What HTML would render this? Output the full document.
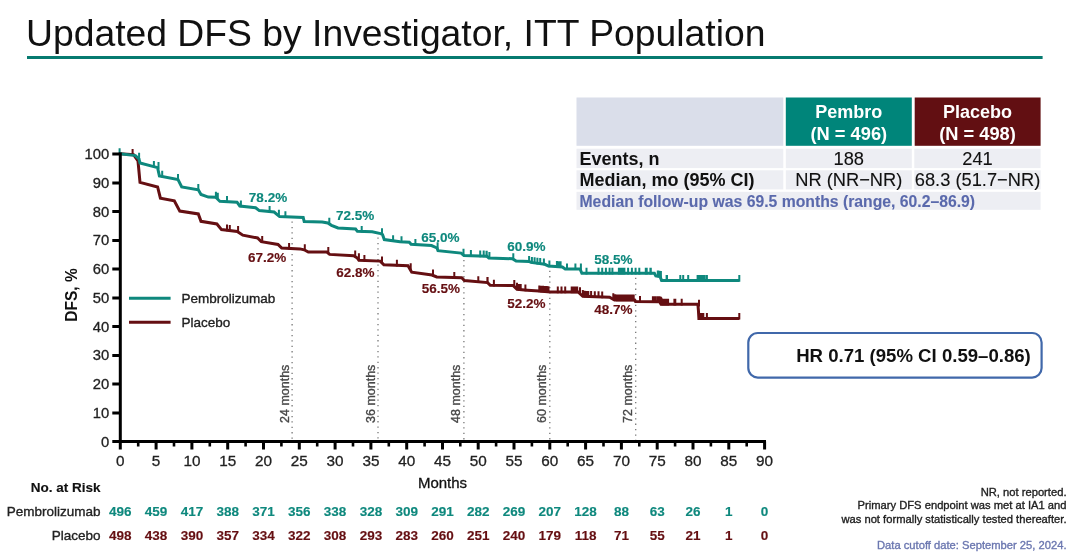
<!DOCTYPE html>
<html><head><meta charset="utf-8"><style>
html,body{margin:0;padding:0;background:#fff;width:1080px;height:556px;overflow:hidden}
svg{display:block;will-change:transform;font-family:"Liberation Sans",sans-serif}
</style></head><body>
<svg width="1080" height="556" viewBox="0 0 1080 556">
<line x1="292.1" y1="221.5" x2="292.1" y2="440" stroke="#777" stroke-width="1.3" stroke-dasharray="1.3 4.1"/>
<text transform="translate(288.6,423) rotate(-90)" font-size="12.5" fill="#474747" stroke="#474747" stroke-width="0.35">24 months</text>
<line x1="378.0" y1="237.5" x2="378.0" y2="440" stroke="#777" stroke-width="1.3" stroke-dasharray="1.3 4.1"/>
<text transform="translate(374.5,423) rotate(-90)" font-size="12.5" fill="#474747" stroke="#474747" stroke-width="0.35">36 months</text>
<line x1="463.9" y1="259.9" x2="463.9" y2="440" stroke="#777" stroke-width="1.3" stroke-dasharray="1.3 4.1"/>
<text transform="translate(460.4,423) rotate(-90)" font-size="12.5" fill="#474747" stroke="#474747" stroke-width="0.35">48 months</text>
<line x1="549.8" y1="270.7" x2="549.8" y2="440" stroke="#777" stroke-width="1.3" stroke-dasharray="1.3 4.1"/>
<text transform="translate(546.3,423) rotate(-90)" font-size="12.5" fill="#474747" stroke="#474747" stroke-width="0.35">60 months</text>
<line x1="635.7" y1="277.8" x2="635.7" y2="440" stroke="#777" stroke-width="1.3" stroke-dasharray="1.3 4.1"/>
<text transform="translate(632.2,423) rotate(-90)" font-size="12.5" fill="#474747" stroke="#474747" stroke-width="0.35">72 months</text>
<polyline points="120.0,153.8 133.5,154.6 138.0,161.0 140.0,182.4 157.6,187.0 160.4,198.1 174.3,200.9 179.8,211.1 198.3,213.9 201.0,221.3 216.9,224.0 221.5,229.6 237.2,231.5 242.8,235.2 257.6,238.0 261.3,241.7 278.0,244.4 281.7,248.1 300.0,248.9 304.2,249.8 308.3,252.1 326.9,252.1 329.6,254.4 353.7,255.8 357.4,258.1 358.9,260.2 380.2,261.1 383.9,264.8 408.0,265.7 411.7,272.2 432.0,275.0 436.7,276.9 461.7,277.8 464.4,280.6 487.6,282.6 490.2,285.2 513.3,285.6 517.0,289.3 527.2,290.2 539.3,291.1 550.4,292.0 578.1,292.0 582.8,296.3 609.6,297.3 614.5,300.0 634.6,300.0 635.5,301.6 659.6,301.8 661.0,304.2 697.9,304.2 698.4,310.0 698.9,318.4 739.3,318.4" fill="none" stroke="#650f12" stroke-width="3" stroke-linejoin="miter"/>
<path d="M132.6 155.7V149.0M227.0 231.3V224.6M229.8 231.7V225.0M238.1 232.7V226.0M262.2 242.8V236.1M289.1 249.6V242.9M304.8 250.9V244.2M328.3 253.6V246.9M355.2 257.3V250.6M358.9 260.0V253.3M364.4 261.6V254.9M382.0 263.1V256.4M396.9 266.4V259.7M410.7 269.9V263.2M433.0 276.2V269.5M454.3 278.7V272.0M478.3 282.9V276.2M487.6 283.7V277.0M487.4 283.7V277.0M493.9 286.4V279.7M514.3 286.8V280.1M517.0 289.5V282.8M518.9 290.6V283.9M520.7 290.7V284.0M525.4 291.2V284.5M539.3 292.2V285.5M541.1 292.4V285.7M543.0 292.5V285.8M544.8 292.7V286.0M546.7 292.8V286.1M548.5 293.0V286.3M557.8 293.2V286.5M561.5 293.2V286.5M565.2 293.2V286.5M571.7 293.2V286.5M573.5 293.2V286.5M575.4 293.2V286.5M577.2 293.2V286.5M580.0 294.0V287.3M582.8 296.6V289.9M584.6 297.5V290.8M586.5 297.6V290.9M588.3 297.7V291.0M591.1 297.8V291.1M594.8 297.9V291.2M598.5 298.0V291.3M602.2 298.2V291.5M613.3 300.0V293.3M615.2 301.0V294.3M617.0 301.2V294.5M618.9 301.2V294.5M620.7 301.2V294.5M622.6 301.2V294.5M624.4 301.2V294.5M626.3 301.2V294.5M628.1 301.2V294.5M630.0 301.2V294.5M631.9 301.2V294.5M633.7 301.2V294.5M654.1 302.9V296.2M655.9 303.0V296.3M659.6 303.0V296.3M661.5 304.5V297.8M663.3 305.4V298.7M665.2 305.4V298.7M667.0 305.4V298.7M674.4 305.4V298.7M640.0 302.8V296.1M652.9 302.9V296.2M655.8 303.0V296.3M658.0 303.0V296.3M659.4 303.0V296.3M660.9 303.5V296.8M662.3 305.4V298.7M663.7 305.4V298.7M665.2 305.4V298.7M666.6 305.4V298.7M668.1 305.4V298.7M675.3 305.4V298.7M681.7 305.4V298.7M699.0 306.5V299.8M700.4 319.6V312.9M701.9 319.6V312.9M703.3 319.6V312.9M706.9 319.6V312.9M739.3 319.6V312.9" stroke="#650f12" stroke-width="2" fill="none"/>
<polyline points="120.0,153.8 135.4,155.6 139.0,159.0 140.0,163.0 157.6,167.6 159.4,176.0 178.0,179.6 181.7,187.0 198.3,189.8 201.0,194.5 208.3,197.1 215.8,197.3 218.5,200.0 219.9,201.3 237.0,202.2 239.8,206.0 255.6,207.8 259.3,210.6 274.1,212.0 279.6,216.6 303.2,217.4 304.2,221.6 322.2,222.0 327.8,223.0 331.5,225.3 338.0,228.0 355.6,229.0 357.4,231.3 372.2,231.8 380.6,233.6 382.5,234.5 384.3,239.6 400.0,241.8 409.3,242.2 411.1,244.3 431.5,245.6 437.0,248.0 438.0,250.7 461.1,253.1 463.9,255.4 487.0,256.3 488.9,258.1 512.4,258.7 516.1,261.1 529.1,261.5 530.9,262.4 544.8,264.3 548.5,266.1 562.4,267.0 565.2,268.9 580.0,268.9 581.9,273.3 654.4,273.3 655.8,275.9 660.1,276.6 661.6,280.6 739.3,280.6" fill="none" stroke="#0e887d" stroke-width="3" stroke-linejoin="miter"/>
<path d="M119.6 155.0V148.3M139.1 159.3V152.7M153.9 167.6V160.9M158.5 168.8V162.1M162.2 177.5V170.8M178.0 180.6V173.9M198.3 190.8V184.1M215.9 198.5V191.8M217.8 199.5V192.8M227.0 202.8V196.1M240.9 207.2V200.5M269.6 212.7V206.0M278.9 216.4V209.7M285.4 218.0V211.3M329.3 224.5V217.8M361.7 232.6V225.9M382.0 235.0V228.3M393.1 241.9V235.2M401.5 243.0V236.3M415.4 245.7V239.0M437.6 249.0V242.3M463.5 255.4V248.8M470.9 256.8V250.1M480.2 257.2V250.5M486.7 257.4V250.7M489.4 258.8V252.1M483.7 257.3V250.6M486.5 257.4V250.7M513.3 259.9V253.2M529.1 262.7V256.0M531.9 263.6V256.9M534.6 264.0V257.3M537.4 264.4V257.7M540.2 264.7V258.0M543.9 265.2V258.5M549.4 267.3V260.6M556.9 267.8V261.1M558.7 267.9V261.2M560.6 268.0V261.3M567.0 270.1V263.4M575.4 270.1V263.4M580.9 270.1V263.4M586.5 274.5V267.8M598.5 274.5V267.8M602.2 274.5V267.8M605.9 274.5V267.8M609.6 274.5V267.8M612.4 274.5V267.8M618.9 274.5V267.8M620.7 274.5V267.8M622.6 274.5V267.8M624.4 274.5V267.8M628.1 274.5V267.8M631.9 274.5V267.8M635.6 274.5V267.8M639.3 274.5V267.8M646.7 274.5V267.8M650.4 274.5V267.8M657.8 277.3V270.6M660.6 277.7V271.0M667.0 281.8V275.1M645.8 274.5V267.8M650.8 274.5V267.8M658.0 277.3V270.6M659.4 277.5V270.8M660.9 277.8V271.1M666.6 281.8V275.1M680.3 281.8V275.1M683.2 281.8V275.1M688.2 281.8V275.1M697.6 281.8V275.1M699.0 281.8V275.1M700.4 281.8V275.1M701.9 281.8V275.1M703.3 281.8V275.1M704.7 281.8V275.1M706.9 281.8V275.1M739.3 281.8V275.1" stroke="#0e887d" stroke-width="2" fill="none"/>
<path d="M120.3 152.6V443.1M118.8 441.6H766" stroke="#000" stroke-width="3" fill="none"/>
<path d="M112.3 441.6H120.3M112.3 412.9H120.3M112.3 384.1H120.3M112.3 355.4H120.3M112.3 326.6H120.3M112.3 297.9H120.3M112.3 269.1H120.3M112.3 240.4H120.3M112.3 211.6H120.3M112.3 182.9H120.3M112.3 154.1H120.3" stroke="#000" stroke-width="3" fill="none"/>
<path d="M120.3 441.6V449.6M156.1 441.6V449.6M191.9 441.6V449.6M227.7 441.6V449.6M263.5 441.6V449.6M299.3 441.6V449.6M335.1 441.6V449.6M370.9 441.6V449.6M406.7 441.6V449.6M442.5 441.6V449.6M478.2 441.6V449.6M514.0 441.6V449.6M549.8 441.6V449.6M585.6 441.6V449.6M621.4 441.6V449.6M657.2 441.6V449.6M693.0 441.6V449.6M728.8 441.6V449.6M764.6 441.6V449.6" stroke="#000" stroke-width="3" fill="none"/>
<path d="M138.2 441.6V446.4M174.0 441.6V446.4M209.8 441.6V446.4M245.6 441.6V446.4M281.4 441.6V446.4M317.2 441.6V446.4M353.0 441.6V446.4M388.8 441.6V446.4M424.6 441.6V446.4M460.3 441.6V446.4M496.1 441.6V446.4M531.9 441.6V446.4M567.7 441.6V446.4M603.5 441.6V446.4M639.3 441.6V446.4M675.1 441.6V446.4M710.9 441.6V446.4M746.7 441.6V446.4" stroke="#000" stroke-width="2.6" fill="none"/>
<text x="109.3" y="446.6" font-size="14.8" text-anchor="end" fill="#222" stroke="#222" stroke-width="0.3">0</text>
<text x="109.3" y="417.9" font-size="14.8" text-anchor="end" fill="#222" stroke="#222" stroke-width="0.3">10</text>
<text x="109.3" y="389.1" font-size="14.8" text-anchor="end" fill="#222" stroke="#222" stroke-width="0.3">20</text>
<text x="109.3" y="360.4" font-size="14.8" text-anchor="end" fill="#222" stroke="#222" stroke-width="0.3">30</text>
<text x="109.3" y="331.6" font-size="14.8" text-anchor="end" fill="#222" stroke="#222" stroke-width="0.3">40</text>
<text x="109.3" y="302.9" font-size="14.8" text-anchor="end" fill="#222" stroke="#222" stroke-width="0.3">50</text>
<text x="109.3" y="274.1" font-size="14.8" text-anchor="end" fill="#222" stroke="#222" stroke-width="0.3">60</text>
<text x="109.3" y="245.4" font-size="14.8" text-anchor="end" fill="#222" stroke="#222" stroke-width="0.3">70</text>
<text x="109.3" y="216.6" font-size="14.8" text-anchor="end" fill="#222" stroke="#222" stroke-width="0.3">80</text>
<text x="109.3" y="187.9" font-size="14.8" text-anchor="end" fill="#222" stroke="#222" stroke-width="0.3">90</text>
<text x="109.3" y="159.1" font-size="14.8" text-anchor="end" fill="#222" stroke="#222" stroke-width="0.3">100</text>
<text x="120.3" y="465.6" font-size="15.3" text-anchor="middle" fill="#222" stroke="#222" stroke-width="0.3">0</text>
<text x="156.1" y="465.6" font-size="15.3" text-anchor="middle" fill="#222" stroke="#222" stroke-width="0.3">5</text>
<text x="191.9" y="465.6" font-size="15.3" text-anchor="middle" fill="#222" stroke="#222" stroke-width="0.3">10</text>
<text x="227.7" y="465.6" font-size="15.3" text-anchor="middle" fill="#222" stroke="#222" stroke-width="0.3">15</text>
<text x="263.5" y="465.6" font-size="15.3" text-anchor="middle" fill="#222" stroke="#222" stroke-width="0.3">20</text>
<text x="299.3" y="465.6" font-size="15.3" text-anchor="middle" fill="#222" stroke="#222" stroke-width="0.3">25</text>
<text x="335.1" y="465.6" font-size="15.3" text-anchor="middle" fill="#222" stroke="#222" stroke-width="0.3">30</text>
<text x="370.9" y="465.6" font-size="15.3" text-anchor="middle" fill="#222" stroke="#222" stroke-width="0.3">35</text>
<text x="406.7" y="465.6" font-size="15.3" text-anchor="middle" fill="#222" stroke="#222" stroke-width="0.3">40</text>
<text x="442.5" y="465.6" font-size="15.3" text-anchor="middle" fill="#222" stroke="#222" stroke-width="0.3">45</text>
<text x="478.2" y="465.6" font-size="15.3" text-anchor="middle" fill="#222" stroke="#222" stroke-width="0.3">50</text>
<text x="514.0" y="465.6" font-size="15.3" text-anchor="middle" fill="#222" stroke="#222" stroke-width="0.3">55</text>
<text x="549.8" y="465.6" font-size="15.3" text-anchor="middle" fill="#222" stroke="#222" stroke-width="0.3">60</text>
<text x="585.6" y="465.6" font-size="15.3" text-anchor="middle" fill="#222" stroke="#222" stroke-width="0.3">65</text>
<text x="621.4" y="465.6" font-size="15.3" text-anchor="middle" fill="#222" stroke="#222" stroke-width="0.3">70</text>
<text x="657.2" y="465.6" font-size="15.3" text-anchor="middle" fill="#222" stroke="#222" stroke-width="0.3">75</text>
<text x="693.0" y="465.6" font-size="15.3" text-anchor="middle" fill="#222" stroke="#222" stroke-width="0.3">80</text>
<text x="728.8" y="465.6" font-size="15.3" text-anchor="middle" fill="#222" stroke="#222" stroke-width="0.3">85</text>
<text x="764.6" y="465.6" font-size="15.3" text-anchor="middle" fill="#222" stroke="#222" stroke-width="0.3">90</text>
<text x="442.5" y="488.3" font-size="15" text-anchor="middle" fill="#111" stroke="#111" stroke-width="0.3">Months</text>
<text transform="translate(76.8,295) rotate(-90) scale(0.94,1)" font-size="16.5" font-weight="bold" text-anchor="middle" fill="#111">DFS, %</text>
<line x1="129" y1="298.3" x2="170.6" y2="298.3" stroke="#0e887d" stroke-width="3"/>
<line x1="129" y1="322.2" x2="170.6" y2="322.2" stroke="#650f12" stroke-width="3"/>
<text x="181.5" y="302.8" font-size="13.5" fill="#222" stroke="#222" stroke-width="0.35">Pembrolizumab</text>
<text x="181.5" y="326.8" font-size="13.5" fill="#222" stroke="#222" stroke-width="0.35">Placebo</text>
<text x="268.0" y="202.3" font-size="13.5" font-weight="bold" text-anchor="middle" fill="#0e887d" stroke="#0e887d" stroke-width="0.15">78.2%</text>
<text x="267.2" y="262.3" font-size="13.5" font-weight="bold" text-anchor="middle" fill="#650f12" stroke="#650f12" stroke-width="0.15">67.2%</text>
<text x="355.2" y="220.4" font-size="13.5" font-weight="bold" text-anchor="middle" fill="#0e887d" stroke="#0e887d" stroke-width="0.15">72.5%</text>
<text x="355.3" y="276.9" font-size="13.5" font-weight="bold" text-anchor="middle" fill="#650f12" stroke="#650f12" stroke-width="0.15">62.8%</text>
<text x="440.4" y="242.2" font-size="13.5" font-weight="bold" text-anchor="middle" fill="#0e887d" stroke="#0e887d" stroke-width="0.15">65.0%</text>
<text x="440.8" y="292.6" font-size="13.5" font-weight="bold" text-anchor="middle" fill="#650f12" stroke="#650f12" stroke-width="0.15">56.5%</text>
<text x="526.3" y="251.3" font-size="13.5" font-weight="bold" text-anchor="middle" fill="#0e887d" stroke="#0e887d" stroke-width="0.15">60.9%</text>
<text x="526.3" y="307.8" font-size="13.5" font-weight="bold" text-anchor="middle" fill="#650f12" stroke="#650f12" stroke-width="0.15">52.2%</text>
<text x="613.3" y="264.3" font-size="13.5" font-weight="bold" text-anchor="middle" fill="#0e887d" stroke="#0e887d" stroke-width="0.15">58.5%</text>
<text x="613.3" y="314.3" font-size="13.5" font-weight="bold" text-anchor="middle" fill="#650f12" stroke="#650f12" stroke-width="0.15">48.7%</text>
<text x="100.5" y="492.3" font-size="13.5" font-weight="bold" text-anchor="end" fill="#111" stroke="#111" stroke-width="0.15">No. at Risk</text>
<text x="100.5" y="515.7" font-size="13.5" text-anchor="end" fill="#222" stroke="#222" stroke-width="0.35">Pembrolizumab</text>
<text x="100.5" y="539.9" font-size="13.5" text-anchor="end" fill="#222" stroke="#222" stroke-width="0.35">Placebo</text>
<text x="120.3" y="515.7" font-size="13.5" font-weight="bold" text-anchor="middle" fill="#0e887d" stroke="#0e887d" stroke-width="0.15">496</text>
<text x="120.3" y="539.9" font-size="13.5" font-weight="bold" text-anchor="middle" fill="#650f12" stroke="#650f12" stroke-width="0.15">498</text>
<text x="156.1" y="515.7" font-size="13.5" font-weight="bold" text-anchor="middle" fill="#0e887d" stroke="#0e887d" stroke-width="0.15">459</text>
<text x="156.1" y="539.9" font-size="13.5" font-weight="bold" text-anchor="middle" fill="#650f12" stroke="#650f12" stroke-width="0.15">438</text>
<text x="191.9" y="515.7" font-size="13.5" font-weight="bold" text-anchor="middle" fill="#0e887d" stroke="#0e887d" stroke-width="0.15">417</text>
<text x="191.9" y="539.9" font-size="13.5" font-weight="bold" text-anchor="middle" fill="#650f12" stroke="#650f12" stroke-width="0.15">390</text>
<text x="227.7" y="515.7" font-size="13.5" font-weight="bold" text-anchor="middle" fill="#0e887d" stroke="#0e887d" stroke-width="0.15">388</text>
<text x="227.7" y="539.9" font-size="13.5" font-weight="bold" text-anchor="middle" fill="#650f12" stroke="#650f12" stroke-width="0.15">357</text>
<text x="263.5" y="515.7" font-size="13.5" font-weight="bold" text-anchor="middle" fill="#0e887d" stroke="#0e887d" stroke-width="0.15">371</text>
<text x="263.5" y="539.9" font-size="13.5" font-weight="bold" text-anchor="middle" fill="#650f12" stroke="#650f12" stroke-width="0.15">334</text>
<text x="299.3" y="515.7" font-size="13.5" font-weight="bold" text-anchor="middle" fill="#0e887d" stroke="#0e887d" stroke-width="0.15">356</text>
<text x="299.3" y="539.9" font-size="13.5" font-weight="bold" text-anchor="middle" fill="#650f12" stroke="#650f12" stroke-width="0.15">322</text>
<text x="335.1" y="515.7" font-size="13.5" font-weight="bold" text-anchor="middle" fill="#0e887d" stroke="#0e887d" stroke-width="0.15">338</text>
<text x="335.1" y="539.9" font-size="13.5" font-weight="bold" text-anchor="middle" fill="#650f12" stroke="#650f12" stroke-width="0.15">308</text>
<text x="370.9" y="515.7" font-size="13.5" font-weight="bold" text-anchor="middle" fill="#0e887d" stroke="#0e887d" stroke-width="0.15">328</text>
<text x="370.9" y="539.9" font-size="13.5" font-weight="bold" text-anchor="middle" fill="#650f12" stroke="#650f12" stroke-width="0.15">293</text>
<text x="406.7" y="515.7" font-size="13.5" font-weight="bold" text-anchor="middle" fill="#0e887d" stroke="#0e887d" stroke-width="0.15">309</text>
<text x="406.7" y="539.9" font-size="13.5" font-weight="bold" text-anchor="middle" fill="#650f12" stroke="#650f12" stroke-width="0.15">283</text>
<text x="442.5" y="515.7" font-size="13.5" font-weight="bold" text-anchor="middle" fill="#0e887d" stroke="#0e887d" stroke-width="0.15">291</text>
<text x="442.5" y="539.9" font-size="13.5" font-weight="bold" text-anchor="middle" fill="#650f12" stroke="#650f12" stroke-width="0.15">260</text>
<text x="478.2" y="515.7" font-size="13.5" font-weight="bold" text-anchor="middle" fill="#0e887d" stroke="#0e887d" stroke-width="0.15">282</text>
<text x="478.2" y="539.9" font-size="13.5" font-weight="bold" text-anchor="middle" fill="#650f12" stroke="#650f12" stroke-width="0.15">251</text>
<text x="514.0" y="515.7" font-size="13.5" font-weight="bold" text-anchor="middle" fill="#0e887d" stroke="#0e887d" stroke-width="0.15">269</text>
<text x="514.0" y="539.9" font-size="13.5" font-weight="bold" text-anchor="middle" fill="#650f12" stroke="#650f12" stroke-width="0.15">240</text>
<text x="549.8" y="515.7" font-size="13.5" font-weight="bold" text-anchor="middle" fill="#0e887d" stroke="#0e887d" stroke-width="0.15">207</text>
<text x="549.8" y="539.9" font-size="13.5" font-weight="bold" text-anchor="middle" fill="#650f12" stroke="#650f12" stroke-width="0.15">179</text>
<text x="585.6" y="515.7" font-size="13.5" font-weight="bold" text-anchor="middle" fill="#0e887d" stroke="#0e887d" stroke-width="0.15">128</text>
<text x="585.6" y="539.9" font-size="13.5" font-weight="bold" text-anchor="middle" fill="#650f12" stroke="#650f12" stroke-width="0.15">118</text>
<text x="621.4" y="515.7" font-size="13.5" font-weight="bold" text-anchor="middle" fill="#0e887d" stroke="#0e887d" stroke-width="0.15">88</text>
<text x="621.4" y="539.9" font-size="13.5" font-weight="bold" text-anchor="middle" fill="#650f12" stroke="#650f12" stroke-width="0.15">71</text>
<text x="657.2" y="515.7" font-size="13.5" font-weight="bold" text-anchor="middle" fill="#0e887d" stroke="#0e887d" stroke-width="0.15">63</text>
<text x="657.2" y="539.9" font-size="13.5" font-weight="bold" text-anchor="middle" fill="#650f12" stroke="#650f12" stroke-width="0.15">55</text>
<text x="693.0" y="515.7" font-size="13.5" font-weight="bold" text-anchor="middle" fill="#0e887d" stroke="#0e887d" stroke-width="0.15">26</text>
<text x="693.0" y="539.9" font-size="13.5" font-weight="bold" text-anchor="middle" fill="#650f12" stroke="#650f12" stroke-width="0.15">21</text>
<text x="728.8" y="515.7" font-size="13.5" font-weight="bold" text-anchor="middle" fill="#0e887d" stroke="#0e887d" stroke-width="0.15">1</text>
<text x="728.8" y="539.9" font-size="13.5" font-weight="bold" text-anchor="middle" fill="#650f12" stroke="#650f12" stroke-width="0.15">1</text>
<text x="764.6" y="515.7" font-size="13.5" font-weight="bold" text-anchor="middle" fill="#0e887d" stroke="#0e887d" stroke-width="0.15">0</text>
<text x="764.6" y="539.9" font-size="13.5" font-weight="bold" text-anchor="middle" fill="#650f12" stroke="#650f12" stroke-width="0.15">0</text>
<text x="1066.5" y="495.7" font-size="11.2" text-anchor="end" fill="#222" stroke="#222" stroke-width="0.35">NR, not reported.</text>
<text x="1066.5" y="508.9" font-size="11.2" text-anchor="end" fill="#222" stroke="#222" stroke-width="0.35">Primary DFS endpoint was met at IA1 and</text>
<text x="1066.5" y="522.6" font-size="11.2" text-anchor="end" fill="#222" stroke="#222" stroke-width="0.35">was not formally statistically tested thereafter.</text>
<text x="1066.5" y="549.4" font-size="11.2" text-anchor="end" fill="#6b77b0" stroke="#6b77b0" stroke-width="0.35">Data cutoff date: September 25, 2024.</text>
<text x="26" y="45.5" font-size="37.3" fill="#111">Updated DFS by Investigator, ITT Population</text>
<rect x="27" y="56" width="1015.6" height="3" fill="#067a70"/>
<rect x="576.5" y="97.5" width="206.8" height="48.3" fill="#dadeea"/>
<rect x="785.8" y="97.5" width="126" height="48.3" fill="#00857a"/>
<rect x="914.7" y="97.5" width="125.9" height="48.3" fill="#620f12"/>
<rect x="576.5" y="148.7" width="206.8" height="19.4" fill="#edeef3"/>
<rect x="785.8" y="148.7" width="126" height="19.4" fill="#edeef3"/>
<rect x="914.3" y="148.7" width="126.3" height="19.4" fill="#edeef3"/>
<rect x="576.5" y="170.3" width="206.8" height="19.1" fill="#edeef3"/>
<rect x="785.8" y="170.3" width="126" height="19.1" fill="#edeef3"/>
<rect x="914.3" y="170.3" width="126.3" height="19.1" fill="#edeef3"/>
<rect x="576.5" y="191.8" width="464.1" height="18" fill="#edeef3"/>
<text x="848.8" y="118" font-size="18" font-weight="bold" text-anchor="middle" fill="#fff">Pembro</text>
<text x="848.8" y="139.9" font-size="18.3" font-weight="bold" text-anchor="middle" fill="#fff">(N = 496)</text>
<text x="977.5" y="118" font-size="18" font-weight="bold" text-anchor="middle" fill="#fff">Placebo</text>
<text x="977.5" y="139.9" font-size="18.3" font-weight="bold" text-anchor="middle" fill="#fff">(N = 498)</text>
<text x="579.5" y="164.5" font-size="18" font-weight="bold" fill="#111">Events, n</text>
<text x="579.5" y="186.3" font-size="18" font-weight="bold" fill="#111">Median, mo (95% CI)</text>
<text x="848.8" y="164.5" font-size="18.3" text-anchor="middle" fill="#111" stroke="#111" stroke-width="0.1">188</text>
<text x="977.5" y="164.5" font-size="18.3" text-anchor="middle" fill="#111" stroke="#111" stroke-width="0.1">241</text>
<text x="848.8" y="186.3" font-size="18.3" text-anchor="middle" fill="#111" stroke="#111" stroke-width="0.1">NR (NR&#8722;NR)</text>
<text x="977.5" y="186.3" font-size="18.3" text-anchor="middle" fill="#111" stroke="#111" stroke-width="0.1">68.3 (51.7&#8722;NR)</text>
<text x="579.5" y="207.2" font-size="15.75" font-weight="bold" fill="#5a69ac" stroke="#5a69ac" stroke-width="0.1">Median follow-up was 69.5 months (range, 60.2&#8211;86.9)</text>
<rect x="748.3" y="333" width="293.3" height="44.6" rx="9.5" ry="9.5" fill="#fff" stroke="#4068aa" stroke-width="2.2"/>
<text x="1030.8" y="362" font-size="18.6" font-weight="bold" text-anchor="end" fill="#111">HR 0.71 (95% CI 0.59&#8211;0.86)</text>
</svg>
</body></html>
